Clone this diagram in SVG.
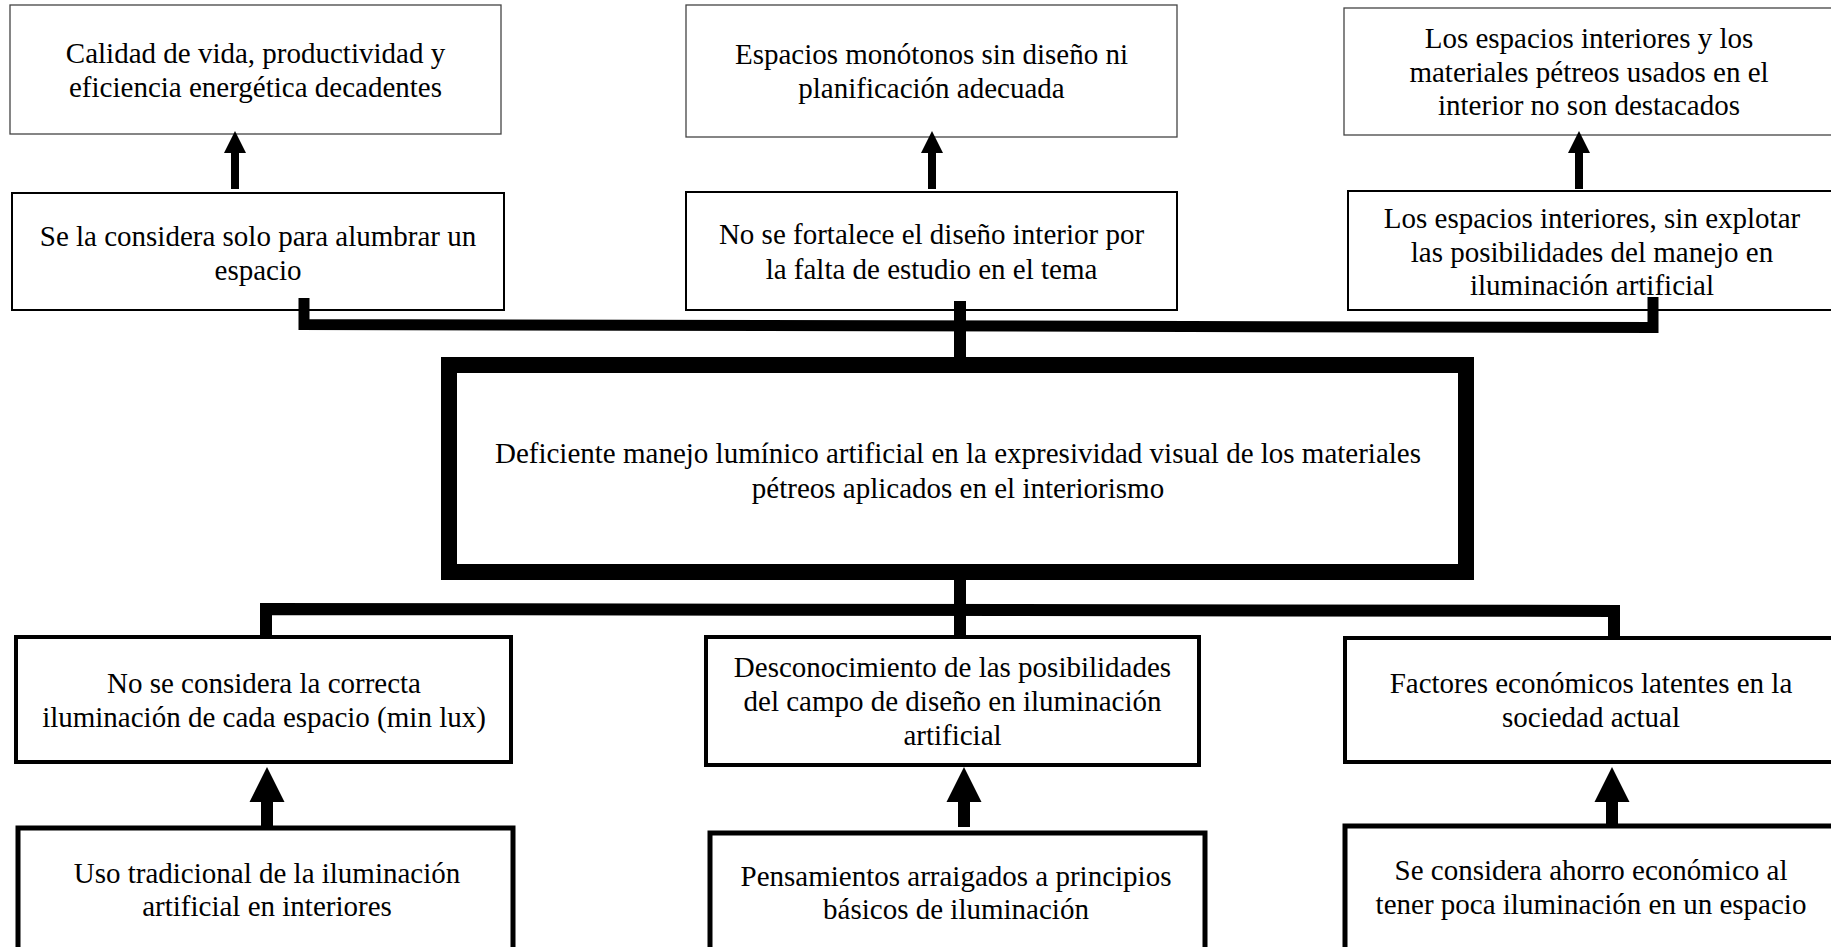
<svg xmlns="http://www.w3.org/2000/svg" xmlns:xlink="http://www.w3.org/1999/xlink" width="1831" height="947" viewBox="0 0 1831 947">
  <style>
    text { font-family: "Liberation Serif", "Times New Roman", serif; font-size: 29px; fill: #000; text-anchor: middle; }
    .effect { fill: #fff; stroke: #444; stroke-width: 1.3; }
    .cause1 { fill: #fff; stroke: #000; stroke-width: 2; }
    .core { fill: #fff; stroke: #000; stroke-width: 16; }
    .cause2 { fill: #fff; stroke: #000; stroke-width: 4; }
    .root { fill: #fff; stroke: #000; stroke-width: 5; }
    .bar { fill: none; stroke: #000; stroke-linejoin: miter; stroke-linecap: butt; }
    .arrow { fill: #000; }
  </style>
  <defs>
    <path id="arrowSm" d="M0,0 L11,22 L4,22 L4,58 L-4,58 L-4,22 L-11,22 Z"/>
    <path id="arrowLg" d="M0,0 L17.5,35 L6,35 L6,60 L-6,60 L-6,35 L-17.5,35 Z"/>
  </defs>
  <rect width="1831" height="947" fill="#fff"/>

  <!-- effects (top row) -->
  <g id="effect-calidad">
    <rect class="effect" x="10" y="5" width="491" height="129"/>
    <text x="255.5" y="63">Calidad de vida, productividad y</text>
    <text x="255.5" y="97">eficiencia energética decadentes</text>
  </g>
  <g id="effect-monotonos">
    <rect class="effect" x="686" y="5" width="491" height="132"/>
    <text x="931.5" y="63.5">Espacios monótonos sin diseño ni</text>
    <text x="931.5" y="97.5">planificación adecuada</text>
  </g>
  <g id="effect-destacados">
    <rect class="effect" x="1344" y="8" width="500" height="127"/>
    <text x="1589" y="47.5">Los espacios interiores y los</text>
    <text x="1589" y="81.5">materiales pétreos usados en el</text>
    <text x="1589" y="115">interior no son destacados</text>
  </g>

  <!-- direct effects -->
  <g id="effect-alumbrar">
    <rect class="cause1" x="12" y="193" width="492" height="117"/>
    <text x="258" y="245.5">Se la considera solo para alumbrar un</text>
    <text x="258" y="279.5">espacio</text>
  </g>
  <g id="effect-fortalece">
    <rect class="cause1" x="686" y="192" width="491" height="118"/>
    <text x="931.5" y="244">No se fortalece el diseño interior por</text>
    <text x="931.5" y="278.5">la falta de estudio en el tema</text>
  </g>
  <g id="effect-explotar">
    <rect class="cause1" x="1348" y="191" width="500" height="119"/>
    <text x="1592" y="227.5">Los espacios interiores, sin explotar</text>
    <text x="1592" y="261.5">las posibilidades del manejo en</text>
    <text x="1592" y="295">iluminación artificial</text>
  </g>

  <!-- central problem -->
  <g id="problem">
    <rect class="core" x="449" y="365" width="1017" height="207"/>
    <text x="958" y="462.5">Deficiente manejo lumínico artificial en la expresividad visual de los materiales</text>
    <text x="958" y="497.5">pétreos aplicados en el interiorismo</text>
  </g>

  <!-- direct causes -->
  <g id="cause-lux">
    <rect class="cause2" x="16" y="637" width="495" height="125"/>
    <text x="264" y="692.5">No se considera la correcta</text>
    <text x="264" y="726.5">iluminación de cada espacio (min lux)</text>
  </g>
  <g id="cause-desconocimiento">
    <rect class="cause2" x="706" y="637" width="493" height="128"/>
    <text x="952.5" y="677">Desconocimiento de las posibilidades</text>
    <text x="952.5" y="711">del campo de diseño en iluminación</text>
    <text x="952.5" y="744.5">artificial</text>
  </g>
  <g id="cause-economicos">
    <rect class="cause2" x="1345" y="638" width="500" height="124"/>
    <text x="1591" y="693">Factores económicos latentes en la</text>
    <text x="1591" y="727">sociedad actual</text>
  </g>

  <!-- root causes -->
  <g id="root-tradicional">
    <rect class="root" x="18" y="828" width="495" height="140"/>
    <text x="267" y="883">Uso tradicional de la iluminación</text>
    <text x="267" y="916">artificial en interiores</text>
  </g>
  <g id="root-pensamientos">
    <rect class="root" x="710" y="833" width="495" height="140"/>
    <text x="956" y="886">Pensamientos arraigados a principios</text>
    <text x="956" y="919">básicos de iluminación</text>
  </g>
  <g id="root-ahorro">
    <rect class="root" x="1345" y="826" width="500" height="140"/>
    <text x="1591" y="880">Se considera ahorro económico al</text>
    <text x="1591" y="914">tener poca iluminación en un espacio</text>
  </g>

  <!-- connectors -->
  <g id="connectors">
    <path class="bar" stroke-width="11" d="M304,298 V324.5 L1653,327.5 V297"/>
    <path class="bar" stroke-width="12" d="M960,301 V358"/>
    <path class="bar" stroke-width="12" d="M960,579 V637"/>
    <path class="bar" stroke-width="12" d="M266,637 V609 L1614,611 V637"/>
    <use class="arrow" xlink:href="#arrowSm" transform="translate(235,131)"/>
    <use class="arrow" xlink:href="#arrowSm" transform="translate(932,131)"/>
    <use class="arrow" xlink:href="#arrowSm" transform="translate(1579,131)"/>
    <use class="arrow" xlink:href="#arrowLg" transform="translate(267,767)"/>
    <use class="arrow" xlink:href="#arrowLg" transform="translate(964,767)"/>
    <use class="arrow" xlink:href="#arrowLg" transform="translate(1612,767)"/>
  </g>
</svg>
